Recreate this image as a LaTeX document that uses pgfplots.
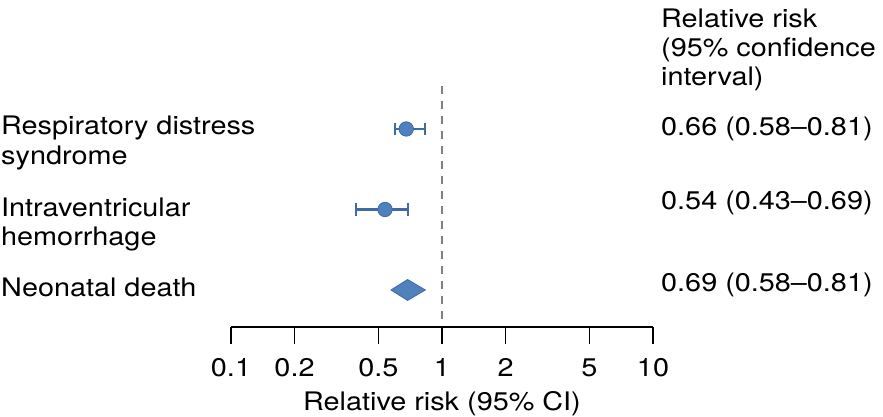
\documentclass[border=0pt]{standalone}
\usepackage{pgfplots}
\pgfplotsset{compat=1.18}
\usepackage{fontspec}
\setmainfont{TeX Gyre Heros}[FakeStretch=1.13]
\definecolor{mk}{RGB}{79,129,189}
\definecolor{mkd}{RGB}{62,106,166}
\definecolor{dashc}{RGB}{128,128,128}
\newcommand\F{\fontsize{25.5bp}{30bp}\selectfont}
\begin{document}
\begin{tikzpicture}[font=\F]
\path[use as bounding box] (0bp,0bp) rectangle (883bp,417bp);
\begin{axis}[at={(231bp,90bp)}, anchor=south west, scale only axis,
  width=422bp, height=241bp,
  xmode=log, xmin=0.1, xmax=10, ymin=0.54, ymax=3.534,
  axis x line=bottom, axis y line=none,
  x axis line style={-, line width=1.3bp, black},
  xtick={0.1,0.2,0.5,1,2,5,10}, xticklabels={0.1,0.2,0.5,1,2,5,10},
  xminorticks=false, tick align=outside, major tick length=17bp,
  tick style={black, line width=1.3bp},
  xticklabel style={font=\F, anchor=base, yshift=-32bp, inner sep=0pt},
  xlabel={Relative risk (95\% CI)},
  xlabel style={font=\F, at={(axis description cs:0.5,0)}, anchor=base, yshift=-83bp, inner sep=0pt},
  clip=false]
\addplot[dashc, line width=2.5bp, dash pattern=on 8bp off 7bp] coordinates {(1,0.64) (1,3.534)};
\addplot[mkd, line width=2.2bp, mark=|, mark size=6bp, mark options={solid, line width=2.2bp}] coordinates {(0.60,3) (0.83,3)};
\addplot[mkd, line width=2.2bp, mark=|, mark size=6.5bp, mark options={solid, line width=2.2bp}] coordinates {(0.39,2) (0.69,2)};
\addplot[only marks, mark=*, mark size=7.2bp, mark options={fill=mk, draw=mkd, line width=0.8bp}] coordinates {(0.677,3) (0.537,2)};
\addplot[fill=mk, draw=mkd, line width=0.8bp] coordinates {(0.573,1) (0.687,1.13) (0.834,1) (0.687,0.87)} -- cycle;
\end{axis}
\node[anchor=base west, inner sep=0] at (1bp,282bp) {Respiratory distress};
\node[anchor=base west, inner sep=0] at (1bp,252bp) {syndrome};
\node[anchor=base west, inner sep=0] at (1bp,200bp) {Intraventricular};
\node[anchor=base west, inner sep=0] at (1bp,171bp) {hemorrhage};
\node[anchor=base west, inner sep=0] at (1bp,120bp) {Neonatal death};
\node[anchor=base west, inner sep=0] at (661bp,389bp) {Relative risk};
\node[anchor=base west, inner sep=0] at (661bp,360bp) {(95\% confidence};
\node[anchor=base west, inner sep=0] at (661bp,331bp) {interval)};
\node[anchor=base west, inner sep=0] at (661bp,281bp) {0.66 (0.58--0.81)};
\node[anchor=base west, inner sep=0] at (661bp,207bp) {0.54 (0.43--0.69)};
\node[anchor=base west, inner sep=0] at (661bp,125bp) {0.69 (0.58--0.81)};
\end{tikzpicture}
\end{document}
